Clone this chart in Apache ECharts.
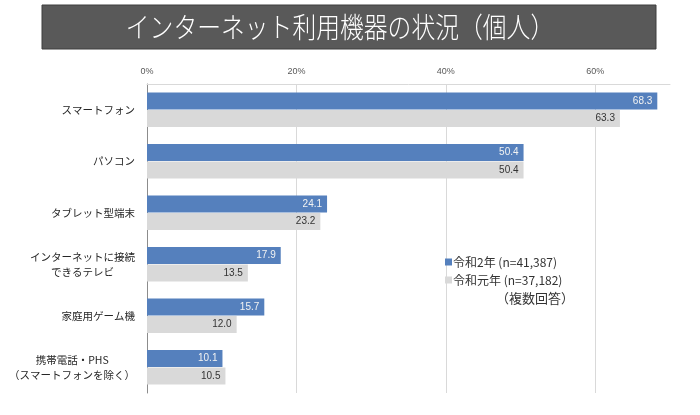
<!DOCTYPE html>
<html>
<head>
<meta charset="utf-8">
<script src="https://cdn.jsdelivr.net/npm/echarts@6/dist/echarts.min.js"></script>
<style>html,body{margin:0;padding:0;background:#fff;}#c{width:700px;height:415px;}</style>
</head>
<body>
<div id="c"></div>
<script>
const categories = ['スマートフォン', 'パソコン', 'タブレット型端末', 'インターネットに接続\nできるテレビ', '家庭用ゲーム機', '携帯電話・PHS\n（スマートフォンを除く）'];
const seriesNames = ['令和2年 (n=41,387)', '令和元年 (n=37,182)'];
const valuesR2 = [68.3, 50.4, 24.1, 17.9, 15.7, 10.1];
const valuesR1 = [63.3, 50.4, 23.2, 13.5, 12.0, 10.5];
const xTicks = [0, 20, 40, 60];

const font = '"Noto Sans CJK JP", "Liberation Sans", sans-serif';
const labelSize = 10.5;

// multi-line labels: centre shorter lines on the longest one (block stays right-aligned)
const emWidth = s => Array.from(s).reduce((a, ch) => a + (ch.charCodeAt(0) > 0xff ? 1 : 0.6), 0);
function centreLines(cat) {
  const lines = cat.split('\n');
  if (lines.length < 2) return cat;
  const widths = lines.map(emWidth);
  const maxW = Math.max(...widths);
  return lines.map((s, j) => {
    const half = Math.round((maxW - widths[j])) / 2; // in em, rounded to 0.5
    const full = Math.floor(half);
    return s + '\u3000'.repeat(full) + (half - full >= 0.5 ? '\u2002' : '');
  }).join('\n');
}

const chart = echarts.init(document.getElementById('c'));
chart.setOption({
  animation: false,
  textStyle: { fontFamily: font },
  grid: { left: 147, right: 30, top: 84, bottom: 22 },
  graphic: [
    { type: 'rect', shape: { x: 42, y: 5, width: 614, height: 44 }, style: { fill: '#595959', stroke: '#3f3f3f', lineWidth: 1 } },
    { type: 'text', x: 340, y: 27, scaleX: 0.85, style: { text: 'インターネット利用機器の状況（個人）', fill: '#ffffff', font: '300 28px "Noto Sans CJK JP", sans-serif', align: 'center', verticalAlign: 'middle' } },
    { type: 'text', x: 535, y: 298, style: { text: '（複数回答）', fill: '#333333', font: '13px "Noto Sans CJK JP", sans-serif', align: 'center', verticalAlign: 'middle' } }
  ],
  legend: {
    orient: 'vertical', left: 440, top: 251, itemWidth: 7, itemHeight: 7, itemGap: 6,
    icon: 'rect', data: seriesNames,
    textStyle: { fontSize: 12, color: '#333', fontFamily: font, padding: [0, 0, 0, -4] }
  },
  xAxis: {
    type: 'value', position: 'top', min: 0, max: 70, interval: 10,
    axisLine: { show: true, lineStyle: { color: '#d9d9d9' } },
    axisTick: { show: false },
    axisLabel: {
      fontSize: 9, color: '#595959', margin: 8, fontFamily: '"Liberation Sans", sans-serif',
      formatter: v => xTicks.includes(v) ? v + '%' : ''
    },
    splitLine: { show: true, lineStyle: { color: ['#d9d9d9', 'rgba(0,0,0,0)'] } }
  },
  yAxis: {
    type: 'category', data: categories, inverse: true,
    axisLine: { show: true, lineStyle: { color: '#8c8c8c' } },
    axisTick: { show: false },
    axisLabel: { fontSize: labelSize, color: '#262626', margin: 12, lineHeight: 15, fontFamily: font, formatter: centreLines }
  },
  series: [
    {
      name: seriesNames[0], type: 'bar', data: valuesR2, barWidth: 17, barGap: '3%',
      itemStyle: { color: '#5580bd' },
      label: { show: true, position: 'insideRight', distance: 5, color: '#f2f2f2', fontSize: 10, fontFamily: '"Liberation Sans", sans-serif', formatter: p => p.value.toFixed(1) }
    },
    {
      name: seriesNames[1], type: 'bar', data: valuesR1, barWidth: 17,
      itemStyle: { color: '#d9d9d9' },
      label: { show: true, position: 'insideRight', distance: 5, color: '#333', fontSize: 10, fontFamily: '"Liberation Sans", sans-serif', formatter: p => p.value.toFixed(1) }
    }
  ]
});
</script>
</body>
</html>
